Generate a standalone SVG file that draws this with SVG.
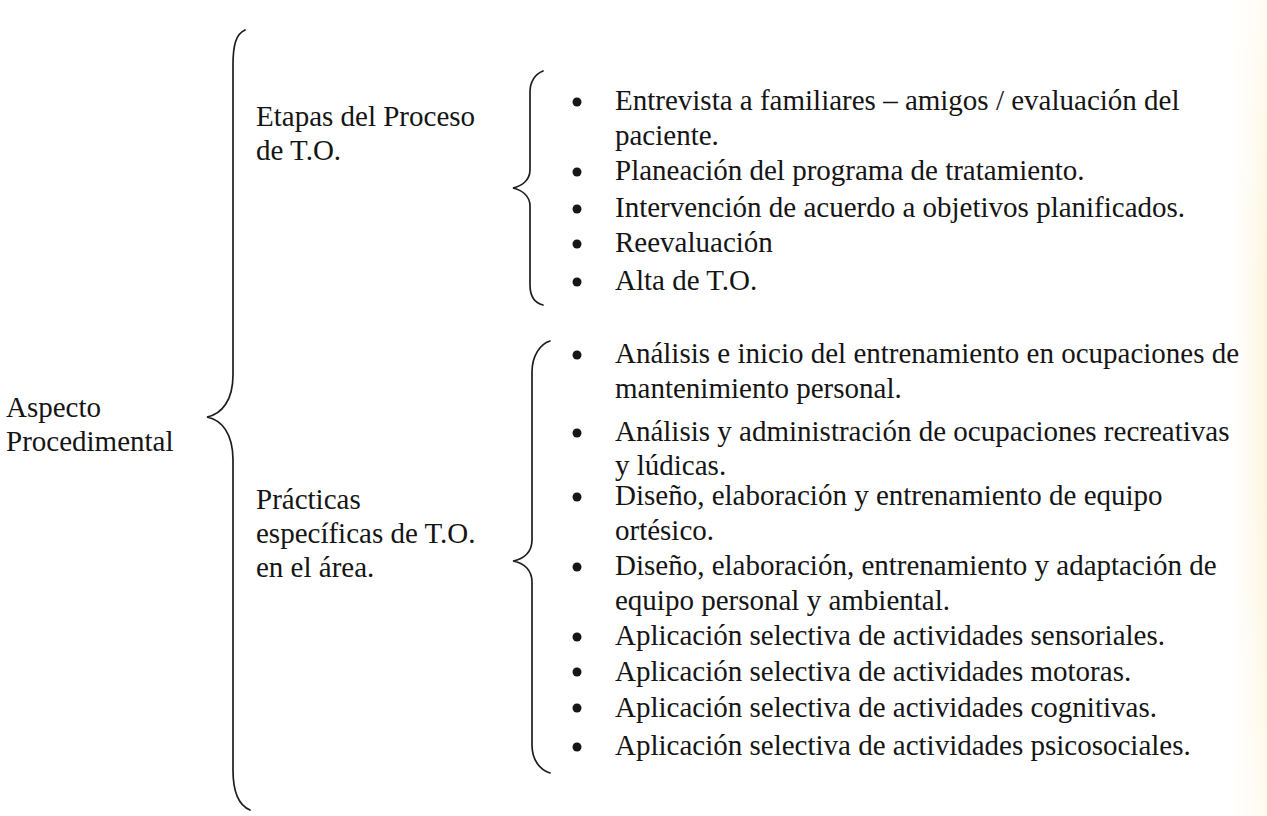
<svg xmlns="http://www.w3.org/2000/svg" width="1267" height="816" viewBox="0 0 1267 816">
<defs>
<style>
text{font-family:"Liberation Serif","Times New Roman",serif;font-size:29px;fill:#151515}
.brace{fill:none;stroke:#1e1e1e;stroke-width:1.7;stroke-linecap:round}
.dot{fill:#161616}
</style>
<linearGradient id="edge" x1="0" y1="0" x2="1" y2="0">
<stop offset="0" stop-color="#fdf8e4" stop-opacity="0"/>
<stop offset="1" stop-color="#fcf4d8" stop-opacity="0.9"/>
</linearGradient>
<linearGradient id="fade" x1="0" y1="0" x2="0" y2="1">
<stop offset="0" stop-color="#fff" stop-opacity="0.6"/>
<stop offset="0.35" stop-color="#fff" stop-opacity="0"/>
<stop offset="0.6" stop-color="#fff" stop-opacity="0"/>
<stop offset="1" stop-color="#fff" stop-opacity="0.5"/>
</linearGradient>
</defs>
<rect x="0" y="0" width="1267" height="816" fill="#ffffff"/>
<rect x="1232" y="0" width="35" height="816" fill="url(#edge)"/>
<rect x="1232" y="0" width="35" height="816" fill="url(#fade)"/>

<g id="root">
<text x="6" y="417">Aspecto</text>
<text x="6" y="451">Procedimental</text>
</g>

<g id="etapas">
<text x="256" y="126">Etapas del Proceso</text>
<text x="256" y="160">de T.O.</text>
</g>

<g id="practicas">
<text x="256" y="509">Prácticas</text>
<text x="256" y="543">específicas de T.O.</text>
<text x="256" y="577">en el área.</text>
</g>

<g id="connectors">
<path class="brace" d="M245 30 C236 34 233 45 233 65 L233 375 C233 400 222 414 207 417 C222 420 233 434 233 460 L233 770 C233 792 238 805 250 810"/>
<path class="brace" d="M543 71 C535 74 530 82 530 92 L530 170 C530 180 522 186 513 188 C522 190 530 196 530 206 L530 285 C530 296 535 303 543 305"/>
<path class="brace" d="M550 341 C540 344 532 356 532 372 L532 540 C532 552 524 559 513 561 C524 563 532 570 532 582 L532 745 C532 760 540 770 550 773"/>
</g>

<g id="list-etapas">
<circle class="dot" cx="577" cy="102" r="4.5"/>
<text x="615" y="110">Entrevista a familiares – amigos / evaluación del</text>
<text x="615" y="145">paciente.</text>
<circle class="dot" cx="577" cy="172" r="4.5"/>
<text x="615" y="180">Planeación del programa de tratamiento.</text>
<circle class="dot" cx="577" cy="209" r="4.5"/>
<text x="615" y="217">Intervención de acuerdo a objetivos planificados.</text>
<circle class="dot" cx="577" cy="244" r="4.5"/>
<text x="615" y="252">Reevaluación</text>
<circle class="dot" cx="577" cy="282" r="4.5"/>
<text x="615" y="290">Alta de T.O.</text>
</g>

<g id="list-practicas">
<circle class="dot" cx="577" cy="355" r="4.5"/>
<text x="615" y="363">Análisis e inicio del entrenamiento en ocupaciones de</text>
<text x="615" y="398">mantenimiento personal.</text>
<circle class="dot" cx="577" cy="433" r="4.5"/>
<text x="615" y="441">Análisis y administración de ocupaciones recreativas</text>
<text x="615" y="475">y lúdicas.</text>
<circle class="dot" cx="577" cy="497" r="4.5"/>
<text x="615" y="505">Diseño, elaboración y entrenamiento de equipo</text>
<text x="615" y="540">ortésico.</text>
<circle class="dot" cx="577" cy="567" r="4.5"/>
<text x="615" y="575">Diseño, elaboración, entrenamiento y adaptación de</text>
<text x="615" y="610">equipo personal y ambiental.</text>
<circle class="dot" cx="577" cy="637" r="4.5"/>
<text x="615" y="645">Aplicación selectiva de actividades sensoriales.</text>
<circle class="dot" cx="577" cy="672" r="4.5"/>
<text x="615" y="681">Aplicación selectiva de actividades motoras.</text>
<circle class="dot" cx="577" cy="708" r="4.5"/>
<text x="615" y="717">Aplicación selectiva de actividades cognitivas.</text>
<circle class="dot" cx="577" cy="747" r="4.5"/>
<text x="615" y="755">Aplicación selectiva de actividades psicosociales.</text>
</g>
</svg>
